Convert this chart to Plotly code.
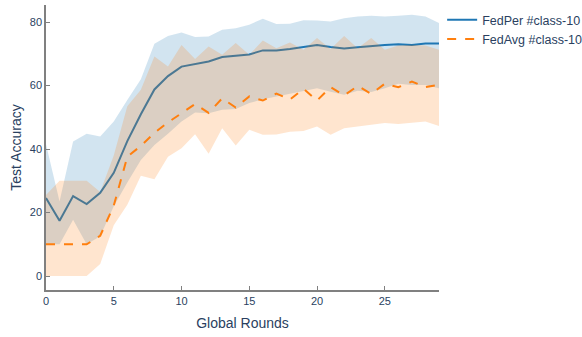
import plotly.graph_objects as go

# Communication rounds on the x axis
rounds = list(range(30))

# FedPer: mean test accuracy and the spread across clients
fedper_mean = [24.6, 17.4, 25.2, 22.7, 26.2, 32.5, 42.5, 51.0, 58.8, 63.0,
               66.0, 66.9, 67.6, 69.0, 69.4, 69.8, 71.1, 71.1, 71.5, 72.1,
               72.8, 72.2, 71.7, 72.1, 72.5, 72.8, 73.0, 72.8, 73.3, 73.3]
fedper_upper = [41.5, 23.5, 42.4, 44.8, 44.0, 48.7, 55.5, 62.0, 73.2, 75.6,
                76.7, 75.3, 75.5, 77.6, 78.1, 79.2, 81.1, 79.4, 79.5, 80.6,
                80.5, 80.2, 81.2, 81.8, 82.0, 81.8, 82.0, 82.3, 81.8, 79.7]
fedper_lower = [10.0, 10.0, 17.7, 10.0, 12.5, 22.0, 29.5, 36.6, 41.3, 44.8,
                48.7, 51.5, 51.3, 52.4, 52.6, 54.5, 55.7, 56.6, 57.3, 58.4,
                59.2, 58.1, 57.1, 58.4, 58.0, 59.2, 60.6, 60.2, 60.2, 59.2]

# FedAvg: mean test accuracy and the spread across clients
fedavg_mean = [10.0, 10.0, 10.0, 10.0, 12.7, 22.2, 37.6, 41.0, 45.1, 48.4,
               51.3, 54.2, 51.4, 56.0, 53.1, 56.6, 55.3, 57.5, 55.6, 59.0,
               55.3, 59.5, 56.9, 59.9, 57.4, 60.6, 59.5, 61.3, 59.5, 60.3]
fedavg_upper = [25.5, 30.0, 30.0, 30.0, 26.5, 38.0, 53.5, 58.7, 69.2, 66.0,
                72.8, 68.4, 72.3, 69.7, 73.4, 69.7, 74.2, 71.8, 73.6, 71.3,
                75.0, 71.5, 75.6, 71.8, 75.0, 71.3, 72.6, 72.9, 72.6, 71.3]
fedavg_lower = [0.0, 0.0, 0.0, 0.0, 3.8, 16.0, 22.5, 31.6, 30.5, 37.6,
                40.3, 44.7, 38.5, 46.6, 41.1, 46.1, 44.5, 44.6, 45.5, 45.7,
                47.1, 44.5, 46.6, 47.1, 47.6, 48.2, 47.9, 48.4, 48.7, 47.3]

x_ticks = [0, 5, 10, 15, 20, 25]
y_ticks = [0, 20, 40, 60, 80]

BLUE = "#1f77b4"
ORANGE = "#ff7f0e"

fig = go.Figure()


def add_band(upper, lower, fill):
    fig.add_trace(go.Scatter(x=rounds, y=upper, mode="lines", line=dict(width=0),
                             showlegend=False, hoverinfo="skip"))
    fig.add_trace(go.Scatter(x=rounds, y=lower, mode="lines", line=dict(width=0),
                             fill="tonexty", fillcolor=fill,
                             showlegend=False, hoverinfo="skip"))


add_band(fedper_upper, fedper_lower, "rgba(31,119,180,0.2)")
fig.add_trace(go.Scatter(x=rounds, y=fedper_mean, mode="lines",
                         name="FedPer #class-10",
                         line=dict(color=BLUE, width=2)))

add_band(fedavg_upper, fedavg_lower, "rgba(255,127,14,0.2)")
fig.add_trace(go.Scatter(x=rounds, y=fedavg_mean, mode="lines",
                         name="FedAvg #class-10",
                         line=dict(color=ORANGE, width=2, dash="dash")))

axis_style = dict(showgrid=False, zeroline=False, showline=True,
                  linecolor="#808080", linewidth=1.5,
                  ticks="inside", ticklen=4, tickcolor="#808080",
                  tickfont=dict(size=11))

fig.update_layout(
    width=582, height=337,
    margin=dict(l=46, r=143, t=5, b=47, autoexpand=False),
    plot_bgcolor="white", paper_bgcolor="white",
    font=dict(family="Liberation Sans, Arial, sans-serif", color="#2a3f5f"),
    legend=dict(x=1.008, y=1, xanchor="left", yanchor="top",
                traceorder="normal", font=dict(size=12.5)),
    xaxis=dict(range=[0, 29], tickvals=x_ticks,
               title=dict(text="Global Rounds", font=dict(size=14), standoff=12),
               **axis_style),
    yaxis=dict(range=[-4.4, 85.4], tickvals=y_ticks,
               title=dict(text="Test Accuracy", font=dict(size=14), standoff=5),
               **axis_style),
)

fig.write_html("out.html")
